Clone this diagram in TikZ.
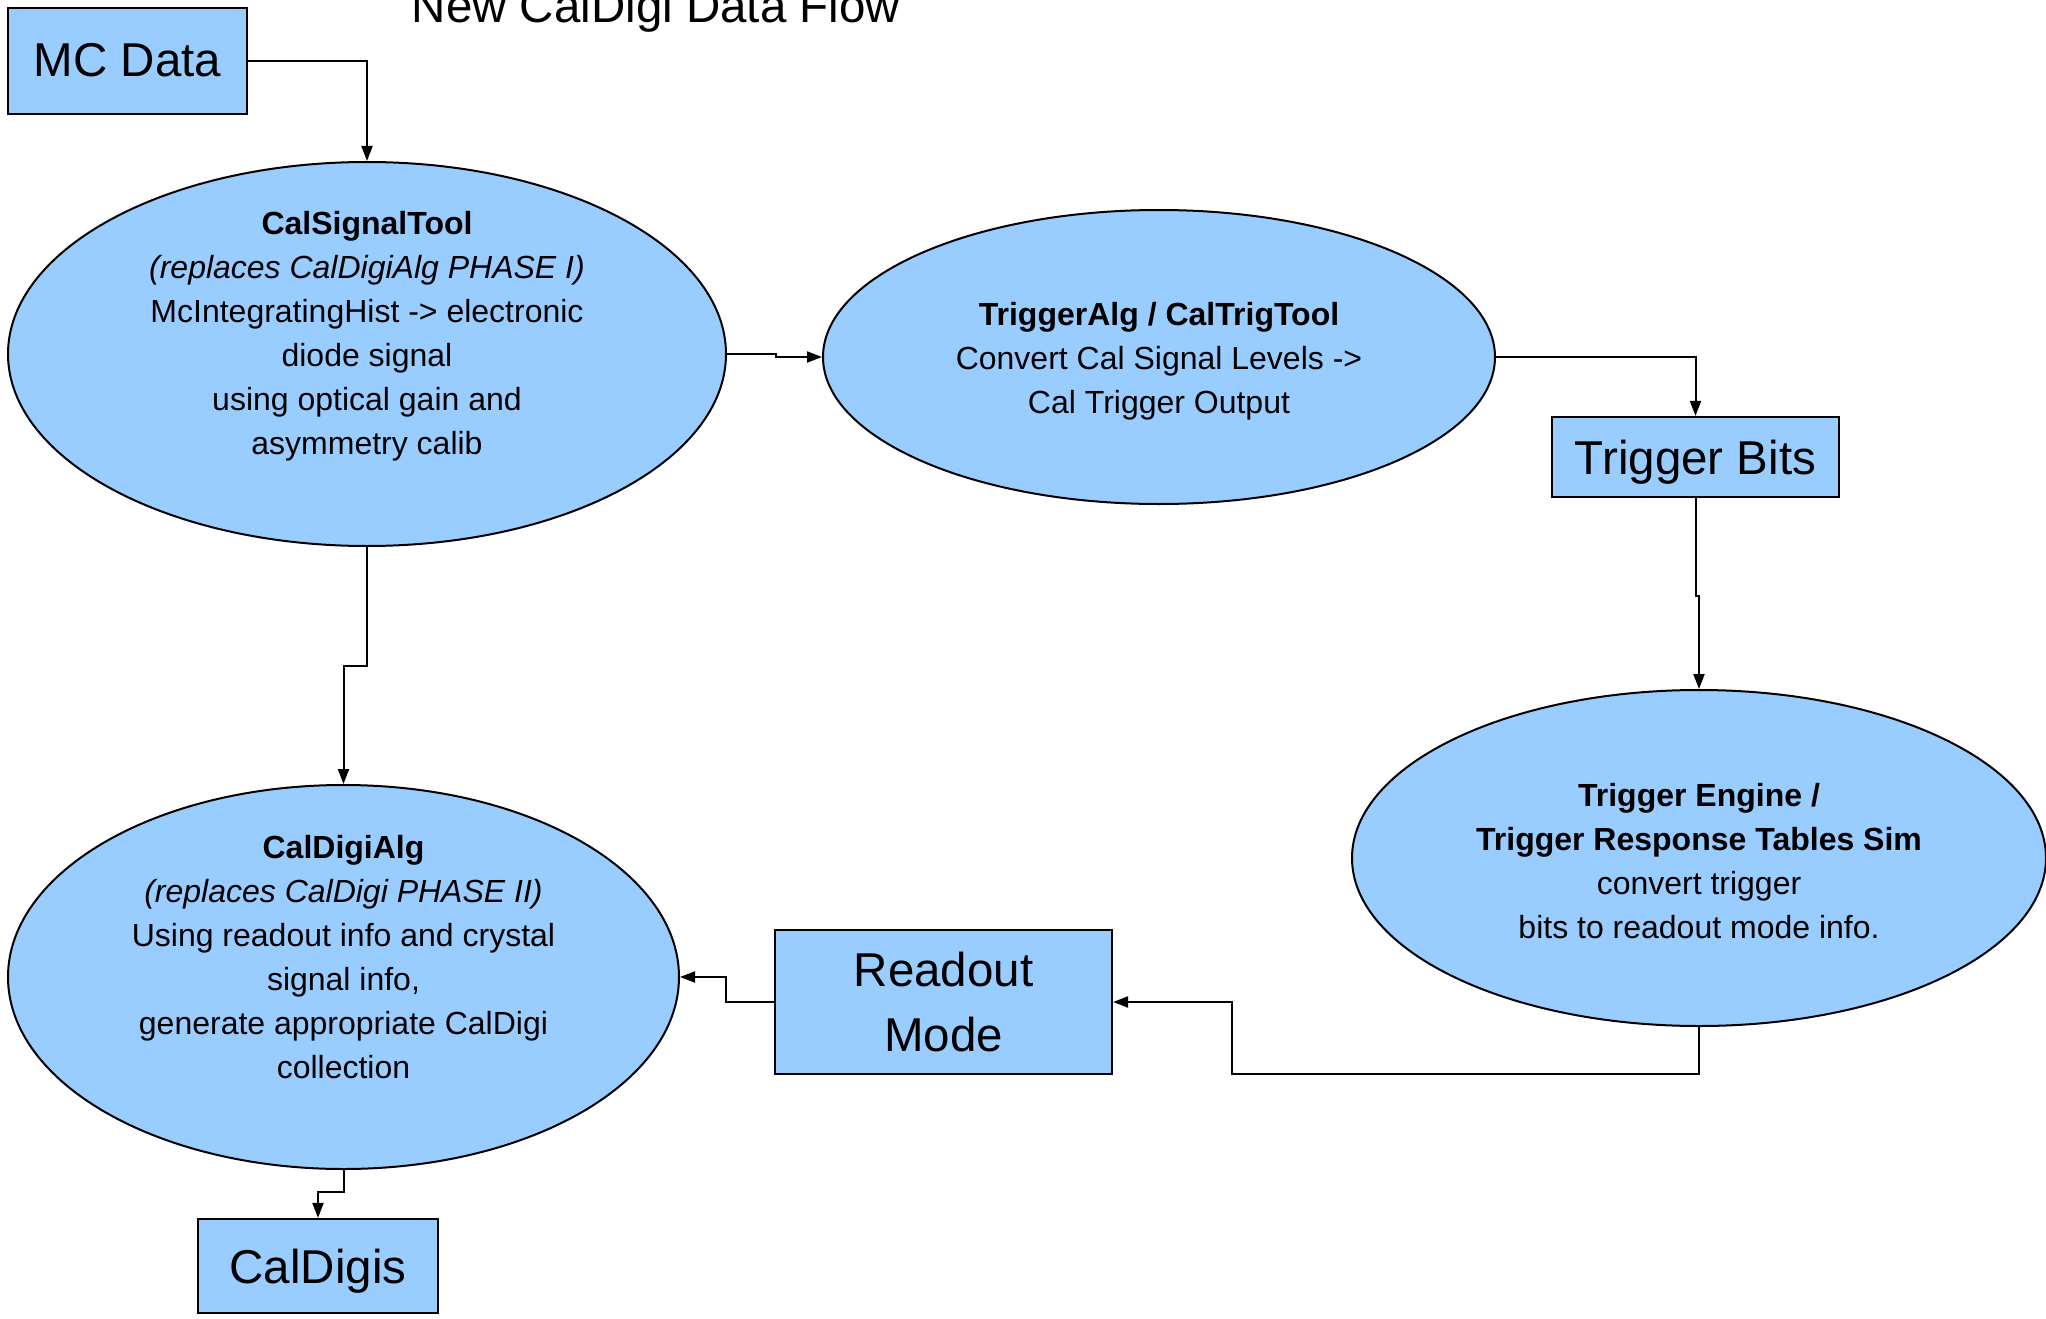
\documentclass[tikz,border=0pt]{standalone}
\usepackage{fontspec}
\setmainfont{Liberation Sans}
\usetikzlibrary{arrows.meta,shapes.geometric}
\definecolor{boxblue}{RGB}{153,204,255}
\tikzset{
  blk/.style={draw=black,line width=2.2pt,fill=boxblue,rectangle,inner sep=0pt},
  btext/.style={font=\fontsize{47.5}{65}\selectfont,align=center,inner sep=0pt},
  ell/.style={draw=black,line width=2pt,fill=boxblue,ellipse,inner sep=0pt},
  etext/.style={font=\fontsize{32}{44}\selectfont,align=center,inner sep=0pt},
  conn/.style={draw=black,line width=2pt,-{Triangle[length=15pt,width=11pt]}}
}
\begin{document}
\begin{tikzpicture}[x=1pt,y=-1pt]
\useasboundingbox[fill=white] (0,0) rectangle (2046,1319);
% title
\node[anchor=base,font=\fontsize{47.5}{52}\selectfont,inner sep=0pt] (title) at (656,23) {New CalDigi Data Flow};
% boxes
\node[blk,minimum width=239pt,minimum height=106pt] (mc) at (127.5,61) {};
\node[btext] (mct) at (127.5,60) {MC Data};
\node[blk,minimum width=287pt,minimum height=80pt] (tbits) at (1695.5,457) {};
\node[btext] (tbitst) at (1695.5,462) {Trigger Bits};
\node[blk,minimum width=337pt,minimum height=144pt] (rm) at (943.5,1002) {};
\node[btext] (rmt) at (943.5,1002) {Readout\\Mode};
\node[blk,minimum width=240pt,minimum height=94pt] (cds) at (318,1266) {};
\node[btext] (cdst) at (318,1271) {CalDigis};
% ellipses
\node[ell,minimum width=718pt,minimum height=384pt] (csig) at (367,354) {};
\node[ell,minimum width=672pt,minimum height=294pt] (talg) at (1159,357) {};
\node[ell,minimum width=694pt,minimum height=336pt] (te) at (1699,858) {};
\node[ell,minimum width=671pt,minimum height=384pt] (cdig) at (343.5,977) {};
% ellipse texts
\node[etext] (csigt) at (367,336) {\textbf{CalSignalTool}\\\textit{(replaces CalDigiAlg PHASE I)}\\McIntegratingHist -> electronic\\diode signal\\using optical gain and\\asymmetry calib};
\node[etext] (talgt) at (1159,361) {\textbf{TriggerAlg / CalTrigTool}\\Convert Cal Signal Levels ->\\Cal Trigger Output};
\node[etext] (tet) at (1699,861) {\textbf{Trigger Engine /}\\\textbf{Trigger Response Tables Sim}\\convert trigger\\bits to readout mode info.};
\node[etext] (cdigt) at (343.5,957) {\textbf{CalDigiAlg}\\\textit{(replaces CalDigi PHASE II)}\\Using readout info and crystal\\signal info,\\generate appropriate CalDigi\\collection};
% connectors
\coordinate (k1) at (1232,1074);
\draw[conn] (mc.east) -| (csig.north);
\draw[conn] (csig.east) -- ++(49,0) |- (talg.west);
\draw[conn] (talg.east) -| (tbits.north);
\draw[conn] (tbits.south) -- ++(0,98) -| (te.north);
\draw[conn] (te.south) |- (k1) |- (rm.east);
\draw[conn] (rm.west) -- ++(-48,0) |- (cdig.east);
\draw[conn] (csig.south) -- ++(0,119) -| (cdig.north);
\draw[conn] (cdig.south) -- ++(0,22) -| (cds.north);
\end{tikzpicture}
\end{document}
